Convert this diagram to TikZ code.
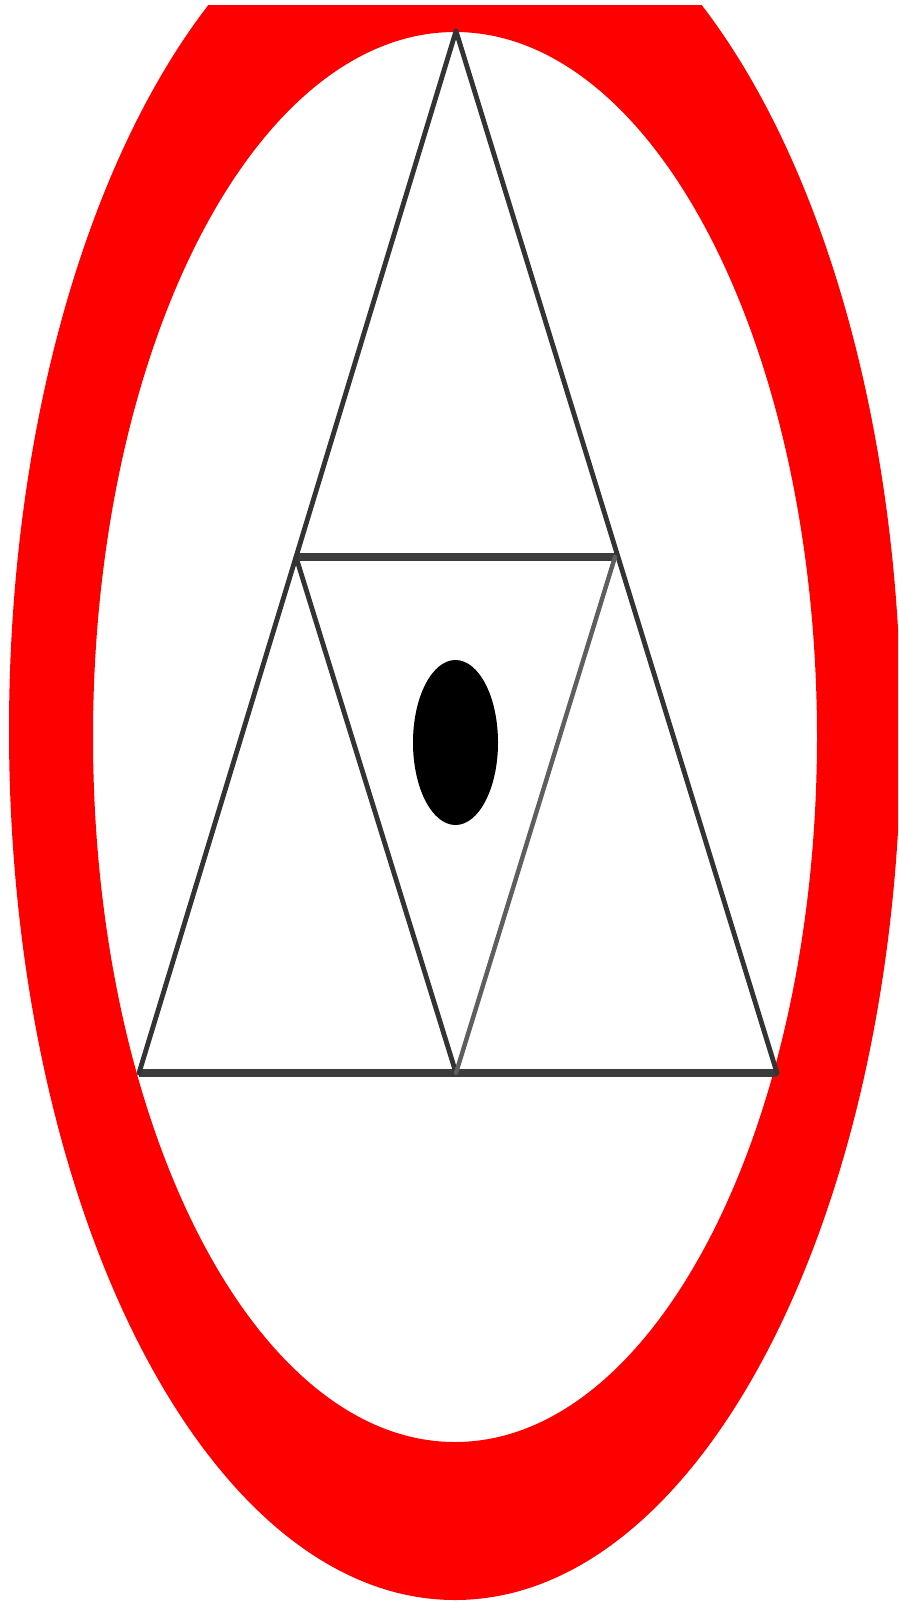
\documentclass[tikz,border=0pt]{standalone}
\usepackage{tikz}
\definecolor{ringred}{HTML}{FF0000}
\definecolor{edgegray}{HTML}{333333}
\definecolor{bargray}{HTML}{3C3C3C}
\definecolor{lightedge}{HTML}{5E5E5E}
\tikzset{
  slant/.style={draw=edgegray, line width=4.8pt, line cap=round},
  lightslant/.style={draw=lightedge, line width=4.4pt, line cap=round},
  bar/.style={draw=bargray, line width=7.5pt},
}
\begin{document}
\begin{tikzpicture}[x=1pt,y=-1pt]
  \useasboundingbox (0,0) rectangle (898,1603);
  % red ring
  \begin{scope}
    \clip (0,6) rectangle (898,1603);
    \fill[ringred, even odd rule]
      (455,730) ellipse [x radius=446pt, y radius=870pt]
      (455,737) ellipse [x radius=362pt, y radius=705pt];
  \end{scope}
  % triangle vertices
  \coordinate (top) at (456,31);
  \coordinate (bl) at (139,1073);
  \coordinate (br) at (777,1073);
  \coordinate (ml) at (296,557);
  \coordinate (mr) at (615,557);
  \coordinate (bm) at (456,1073);
  % horizontal bars
  \draw[bar] (ml) -- (mr);
  \draw[bar] (bl) -- (br);
  % outer sides
  \draw[slant] (top) -- (bl);
  \draw[slant] (top) -- (br);
  % inner sides
  \draw[slant] (ml) -- (bm);
  \draw[lightslant] (mr) -- (bm);
  % eye
  \fill[black] (455.5,742.5) ellipse [x radius=42.5pt, y radius=82.5pt];
\end{tikzpicture}
\end{document}
